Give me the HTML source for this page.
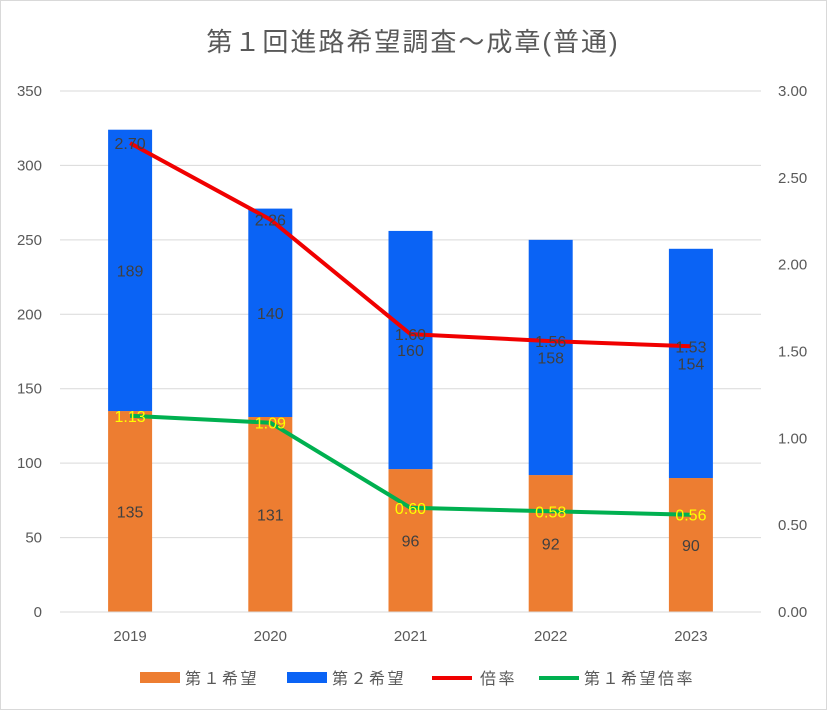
<!DOCTYPE html>
<html><head><meta charset="utf-8"><style>
body{margin:0;background:#fff;}
svg{display:block;font-family:"Liberation Sans","Noto Sans CJK JP",sans-serif;}
</style></head><body>
<svg id="c" width="827" height="710">
<rect x="0.5" y="0.5" width="826" height="709" fill="#fff" stroke="#d9d9d9"/>
<text x="413" y="51" text-anchor="middle" font-size="26" letter-spacing="2" fill="#595959">第１回進路希望調査～成章(普通)</text>
<g id="grid"></g><g id="bars"></g><g id="lines"></g><g id="labels"></g><g id="axes"></g>
<g font-size="16" letter-spacing="2.5" fill="#595959">
<rect x="140" y="672" width="40" height="11" fill="#ED7D31"/>
<text x="185" y="684">第１希望</text>
<rect x="287" y="672" width="40" height="11" fill="#0A63F5"/>
<text x="332" y="684">第２希望</text>
<line x1="432" y1="678" x2="472" y2="678" stroke="#F00000" stroke-width="4"/>
<text x="480" y="684">倍率</text>
<line x1="539" y1="678" x2="579" y2="678" stroke="#00B050" stroke-width="4"/>
<text x="584" y="684">第１希望倍率</text>
</g>
</svg>
<script>
const categories=["2019","2020","2021","2022","2023"];
const first=[135,131,96,92,90];
const second=[189,140,160,158,154];
const ratio=[2.70,2.26,1.60,1.56,1.53];
const firstRatio=[1.13,1.09,0.60,0.58,0.56];
const leftTicks=[0,50,100,150,200,250,300,350];
const rightTicks=["0.00","0.50","1.00","1.50","2.00","2.50","3.00"];
const NS="http://www.w3.org/2000/svg";
const X0=60,X1=761,Y0=612,Y1=91;
const step=(X1-X0)/categories.length;
const xc=i=>X0+step*(i+0.5);
const yL=v=>Y0-(v/350)*(Y0-Y1);
const yR=v=>Y0-(v/3)*(Y0-Y1);
function mk(tag,attrs,parent,txt){const e=document.createElementNS(NS,tag);for(const k in attrs)e.setAttribute(k,attrs[k]);if(txt!=null)e.textContent=txt;document.getElementById(parent).appendChild(e);return e;}
leftTicks.forEach(t=>{
  const g=mk("line",{x1:X0,x2:X1,y1:yL(t),y2:yL(t),stroke:"#d9d9d9","stroke-width":1},"grid");
  
  
  const l=mk("text",{x:42,y:yL(t)+5,"text-anchor":"end","font-size":15,fill:"#595959"},"axes",t);
  
  
});
rightTicks.forEach(t=>{
  const l=mk("text",{x:778,y:yR(+t)+5,"font-size":15,fill:"#595959"},"axes",t);
  
  
});
const bw=44;
categories.forEach((c,i)=>{
  const x=xc(i);
  const l=mk("text",{x:x,y:641,"text-anchor":"middle","font-size":15,fill:"#595959"},"axes",c);
  
  
  const b1=mk("rect",{x:x-bw/2,y:yL(first[i]),width:bw,height:Y0-yL(first[i]),fill:"#ED7D31"},"bars");
  
  
  const top=first[i]+second[i];
  const b2=mk("rect",{x:x-bw/2,y:yL(top),width:bw,height:yL(first[i])-yL(top),fill:"#0A63F5"},"bars");
  
  
  const t1=mk("text",{x:x,y:yL(first[i]/2)+6,"text-anchor":"middle","font-size":16,fill:"#404040"},"labels",first[i]);
  
  
  const t2=mk("text",{x:x,y:yL(first[i]+second[i]/2)+6,"text-anchor":"middle","font-size":16,fill:"#404040"},"labels",second[i]);
  
  
  const t3=mk("text",{x:x,y:yR(ratio[i])+6,"text-anchor":"middle","font-size":16,fill:"#404040"},"labels",ratio[i].toFixed(2));
  
  
  const t4=mk("text",{x:x,y:yR(firstRatio[i])+6,"text-anchor":"middle","font-size":16,fill:"#FFFF00"},"labels",firstRatio[i].toFixed(2));
  
  
});
const ax=mk("line",{x1:X0,x2:X1,y1:Y0,y2:Y0,stroke:"#d9d9d9"},"axes");


const p1=mk("polyline",{points:ratio.map((v,i)=>xc(i)+","+yR(v)).join(" "),fill:"none",stroke:"#F00000","stroke-width":4,"stroke-linejoin":"round"},"lines");


const p2=mk("polyline",{points:firstRatio.map((v,i)=>xc(i)+","+yR(v)).join(" "),fill:"none",stroke:"#00B050","stroke-width":4,"stroke-linejoin":"round"},"lines");


</script>
</body></html>
